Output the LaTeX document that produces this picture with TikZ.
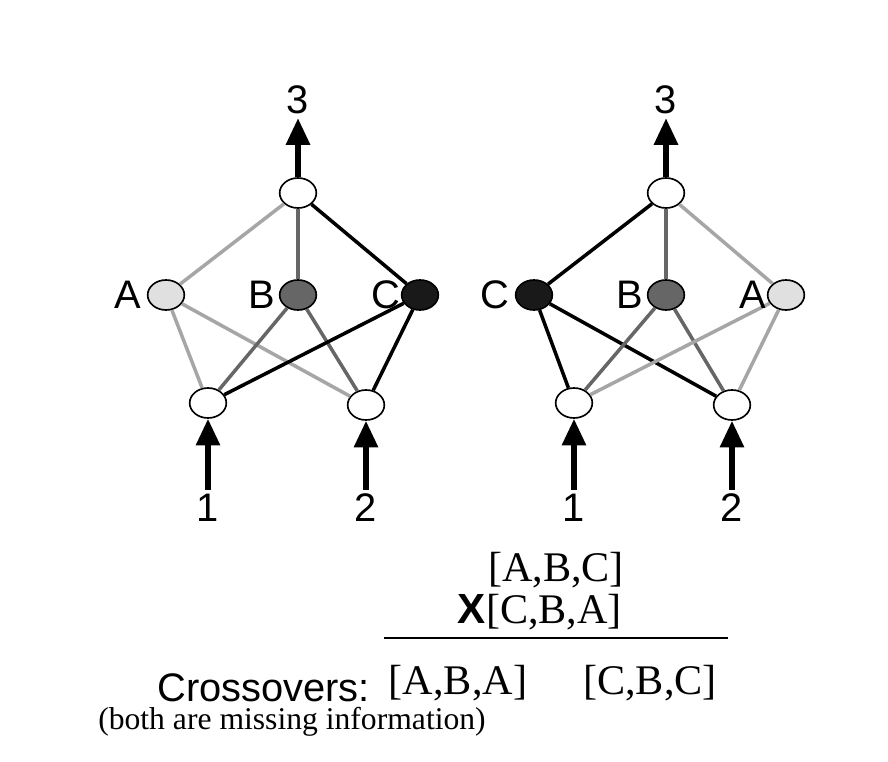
\documentclass[tikz,border=0pt]{standalone}
\usepackage{fontspec}
\setmainfont{Liberation Serif}
\setsansfont{Liberation Sans}
\usetikzlibrary{arrows.meta, shapes, positioning}
\tikzstyle{unit} = [ellipse, draw=black, line width=1.4pt, minimum width=1.1cm, minimum height=0.9cm, inner sep=0]
\tikzstyle{lbl} = [font=\sffamily\fontsize{34}{38}\selectfont]
\tikzstyle{txt} = [font=\fontsize{36}{40}\selectfont]
\tikzstyle{light} = [draw=black!35, line width=3pt]
\tikzstyle{mid} = [draw=black!60, line width=3pt]
\tikzstyle{dark} = [draw=black, line width=3pt]
\tikzstyle{io} = [line width=4.5pt, -{Triangle[length=0.8cm,width=0.7cm]}]
\begin{document}
\begin{tikzpicture}[x=0.03cm, y=-0.03cm]
	\useasboundingbox (0,0) rectangle (888,762);

	% left network
	\node (LTop) [unit, fill=white] at (298,193) {};
	\node (LA) [unit, fill=black!12] at (166,295) {};
	\node (LB) [unit, fill=black!60] at (298,295) {};
	\node (LC) [unit, fill=black!90] at (420,295) {};
	\node (L1) [unit, fill=white] at (208,403) {};
	\node (L2) [unit, fill=white] at (366,405) {};
	\draw[light] (LTop) -- (LA);
	\draw[mid] (LTop) -- (LB);
	\draw[dark] (LTop) -- (LC);
	\draw[light] (LA) -- (L1);
	\draw[light] (LA) -- (L2);
	\draw[mid] (LB) -- (L1);
	\draw[mid] (LB) -- (L2);
	\draw[dark] (LC) -- (L1);
	\draw[dark] (LC) -- (L2);
	\node (LALbl) [lbl, left=0.05cm of LA] {A};
	\node (LBLbl) [lbl, left=0.0cm of LB] {B};
	\node (LCLbl) [lbl, left=-0.1cm of LC] {C};
	\node (LOut) [lbl] at (298,100) {3};
	\node (LIn1) [lbl] at (208,508) {1};
	\node (LIn2) [lbl] at (366,508) {2};
	\draw[io] (LTop) -- (LOut);
	\draw[io] (LIn1) -- (L1);
	\draw[io] (LIn2) -- (L2);

	% right network
	\node (RTop) [unit, fill=white] at (666,193) {};
	\node (RC) [unit, fill=black!90] at (534,295) {};
	\node (RB) [unit, fill=black!60] at (666,295) {};
	\node (RA) [unit, fill=black!12] at (786,295) {};
	\node (R1) [unit, fill=white] at (574,403) {};
	\node (R2) [unit, fill=white] at (732,405) {};
	\draw[dark] (RTop) -- (RC);
	\draw[mid] (RTop) -- (RB);
	\draw[light] (RTop) -- (RA);
	\draw[dark] (RC) -- (R1);
	\draw[dark] (RC) -- (R2);
	\draw[mid] (RB) -- (R1);
	\draw[mid] (RB) -- (R2);
	\draw[light] (RA) -- (R1);
	\draw[light] (RA) -- (R2);
	\node (RCLbl) [lbl, left=0.05cm of RC] {C};
	\node (RBLbl) [lbl, left=0.0cm of RB] {B};
	\node (RALbl) [lbl, left=-0.1cm of RA] {A};
	\node (ROut) [lbl] at (666,100) {3};
	\node (RIn1) [lbl] at (574,508) {1};
	\node (RIn2) [lbl] at (732,508) {2};
	\draw[io] (RTop) -- (ROut);
	\draw[io] (RIn1) -- (R1);
	\draw[io] (RIn2) -- (R2);

	% crossover
	\node (ParentA) [txt] at (556,570) {[A,B,C]};
	\node (ParentB) [txt] at (540,612) {\textsf{\textbf{X}}[C,B,A]};
	\coordinate (RuleL) at (384,638);
	\coordinate (RuleR) at (728,638);
	\draw[line width=1.8pt] (RuleL) -- (RuleR);
	\node (XLbl) [lbl, anchor=east] at (374,688) {Crossovers:};
	\node (ChildA) [txt] at (458,683) {[A,B,A]};
	\node (ChildB) [txt] at (650,683) {[C,B,C]};
	\node (Note) [font=\fontsize{27}{30}\selectfont] at (292,722) {(both are missing information)};
\end{tikzpicture}
\end{document}
